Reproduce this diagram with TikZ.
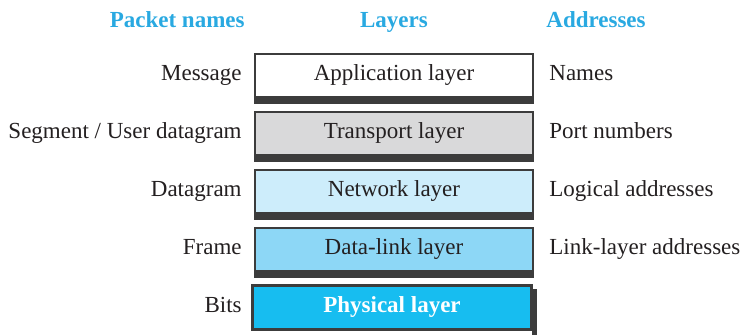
\documentclass[tikz,border=0pt]{standalone}
\usepackage{fontspec}
\setmainfont{Liberation Serif}
\usetikzlibrary{positioning}

\definecolor{headblue}{HTML}{29A9E1}
\definecolor{transgray}{HTML}{D9D9DA}
\definecolor{netblue}{HTML}{CDEDFB}
\definecolor{linkblue}{HTML}{8DD7F6}
\definecolor{physblue}{HTML}{17BDF0}
\definecolor{shadowgray}{HTML}{3C3C3C}
\definecolor{inktext}{HTML}{231F20}

\begin{document}
\begin{tikzpicture}[
    x=0.5pt, y=-0.5pt,
    font=\fontsize{11.5}{14}\selectfont,
    every node/.style={text=inktext},
    layer/.style={draw=shadowgray, line width=1pt,
                  minimum width=139pt, minimum height=21.5pt, inner sep=0pt},
    header/.style={font=\fontsize{11.5}{14}\selectfont\bfseries, text=headblue, inner sep=0pt},
    lbl/.style={inner sep=0pt}
]
\useasboundingbox (0,0) rectangle (741,334);

% Column headers
\node[header, anchor=base east] (hpacket) at (245,27) {Packet names};
\node[header, anchor=base] (hlayers) at (394,27) {Layers};
\node[header, anchor=base west] (haddr) at (546,27) {Addresses};

% Layer stack
\node[layer, fill=white] (app) at (394,75) {Application layer};
\node[layer, fill=transgray, below=6.5pt of app] (trans) {Transport layer};
\node[layer, fill=netblue, below=6.5pt of trans] (net) {Network layer};
\node[layer, fill=linkblue, below=6.5pt of net] (link) {Data-link layer};
\node[layer, fill=physblue, below=6.5pt of link, xshift=-1pt,
      font=\fontsize{11.5}{14}\selectfont\bfseries, text=white] (phys) {Physical layer};

% Shadows under the upper boxes
\foreach \l in {app, trans, net, link} {
  \fill[shadowgray] (\l.south west) rectangle ([yshift=-3pt]\l.south east);
}
% Shadow beside the physical box
\fill[shadowgray] ([yshift=-2pt]phys.north east) rectangle ([xshift=2.5pt,yshift=-3pt]phys.south east);
\draw[draw=shadowgray, line width=1pt] (phys.south west) rectangle (phys.north east);

% Packet names
\node[lbl, anchor=base east] (pmsg) at ([xshift=-6pt]app.base west) {Message};
\node[lbl, anchor=base east] (pseg) at ([xshift=-6pt]trans.base west) {Segment / User datagram};
\node[lbl, anchor=base east] (pdgram) at ([xshift=-6pt]net.base west) {Datagram};
\node[lbl, anchor=base east] (pframe) at ([xshift=-6pt]link.base west) {Frame};
\node[lbl, anchor=base east] (pbits) at ([xshift=-5pt]phys.base west) {Bits};

% Addresses
\node[lbl, anchor=base west] (anames) at ([xshift=7.5pt]app.base east) {Names};
\node[lbl, anchor=base west] (aport) at ([xshift=7.5pt]trans.base east) {Port numbers};
\node[lbl, anchor=base west] (alogic) at ([xshift=7.5pt]net.base east) {Logical addresses};
\node[lbl, anchor=base west] (alink) at ([xshift=7.5pt]link.base east) {Link-layer addresses};

\end{tikzpicture}
\end{document}
